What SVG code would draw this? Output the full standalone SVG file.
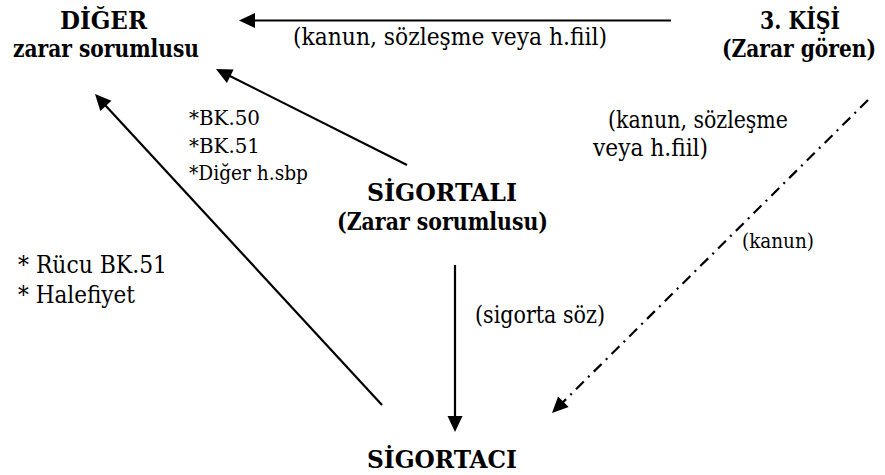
<svg xmlns="http://www.w3.org/2000/svg" width="885" height="475" viewBox="0 0 885 475">
<style>
.b{font-weight:bold;font-size:24px;fill:#000}
.r{font-size:24px;fill:#000}
.s{font-size:21px;fill:#000}
.ln{stroke:#000;stroke-width:2.2;fill:none}
.dd{stroke-dasharray:11,6,2,6}
</style>
<defs>
<marker id="ah" markerUnits="userSpaceOnUse" markerWidth="17" markerHeight="16" refX="6" refY="7.5" orient="auto" overflow="visible">
<path d="M0,0 L16,7.5 L0,15 z" fill="#000"/>
</marker>
</defs>
<rect width="885" height="475" fill="#fff"/>
<g id="connectors">
<line class="ln" x1="671" y1="20.5" x2="249" y2="20.5" marker-end="url(#ah)"/>
<line class="ln" x1="407" y1="165" x2="224.9" y2="73.5" marker-end="url(#ah)"/>
<line class="ln" x1="382" y1="405" x2="101.8" y2="101.4" marker-end="url(#ah)"/>
<line class="ln" x1="455" y1="265" x2="455" y2="422" marker-end="url(#ah)"/>
<line class="ln dd" x1="868" y1="100" x2="559.1" y2="406" marker-end="url(#ah)"/>
</g>
<g font-family="DejaVu Serif Condensed, DejaVu Serif, serif">
<g id="node-diger">
<text class="b" x="60" y="29" textLength="87" lengthAdjust="spacingAndGlyphs">DİĞER</text>
<text class="b" x="13" y="57" textLength="186" lengthAdjust="spacingAndGlyphs">zarar sorumlusu</text>
</g>
<g id="node-kisi">
<text class="b" x="760" y="29" textLength="80" lengthAdjust="spacingAndGlyphs">3. KİŞİ</text>
<text class="b" transform="translate(799,57) scale(0.73,1)" x="0" y="0" text-anchor="middle" textLength="211" lengthAdjust="spacingAndGlyphs">(Zarar gören)</text>
</g>
<g id="node-sigortali">
<text class="b" x="367" y="201" textLength="150" lengthAdjust="spacingAndGlyphs">SİGORTALI</text>
<text class="b" x="337" y="230" textLength="211" lengthAdjust="spacingAndGlyphs">(Zarar sorumlusu)</text>
</g>
<g id="node-sigortaci">
<text class="b" x="367" y="468" textLength="150" lengthAdjust="spacingAndGlyphs">SİGORTACI</text>
</g>
<g id="labels">
<text class="r" x="293" y="45" textLength="314" lengthAdjust="spacingAndGlyphs">(kanun, sözleşme veya h.fiil)</text>
<text class="s" x="189" y="125" textLength="71" lengthAdjust="spacingAndGlyphs">*BK.50</text>
<text class="s" x="189" y="153" textLength="71" lengthAdjust="spacingAndGlyphs">*BK.51</text>
<text class="s" x="189" y="180" textLength="119" lengthAdjust="spacingAndGlyphs">*Diğer h.sbp</text>
<text class="r" x="608" y="128" textLength="180" lengthAdjust="spacingAndGlyphs">(kanun, sözleşme</text>
<text class="r" x="593" y="156" textLength="115" lengthAdjust="spacingAndGlyphs">veya h.fiil)</text>
<text class="s" x="742" y="248" textLength="72" lengthAdjust="spacingAndGlyphs">(kanun)</text>
<text class="r" x="475" y="323" textLength="130" lengthAdjust="spacingAndGlyphs">(sigorta söz)</text>
<text class="r" x="18" y="273" textLength="149" lengthAdjust="spacingAndGlyphs">* Rücu BK.51</text>
<text class="r" x="18" y="303" textLength="117" lengthAdjust="spacingAndGlyphs">* Halefiyet</text>
</g>
</g>
</svg>
